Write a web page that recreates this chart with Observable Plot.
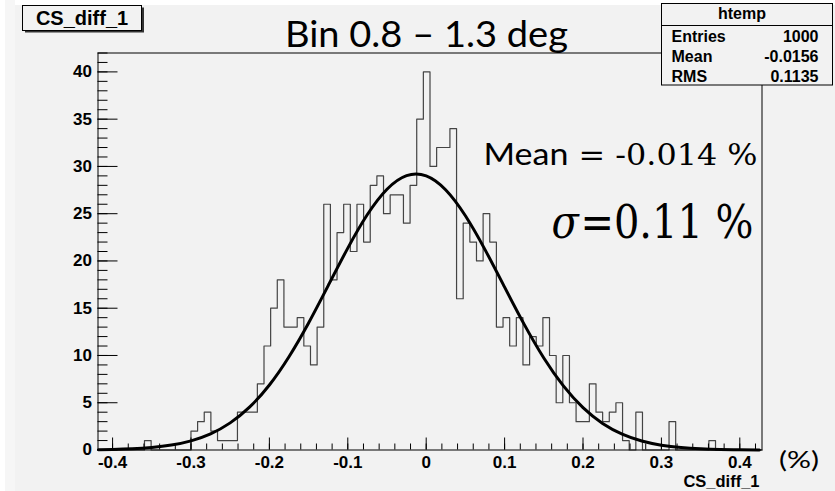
<!DOCTYPE html>
<html><head><meta charset="utf-8">
<script src="https://cdn.jsdelivr.net/npm/d3@7"></script>
<script src="https://cdn.jsdelivr.net/npm/@observablehq/plot@0.6"></script>
<style>
html,body{margin:0;padding:0;background:#fff;}
#chart{width:835px;height:491px;}
</style></head><body><div id="chart"></div>
<script>
// ---- data ----
const histName = "htemp";
const histTitle = "CS_diff_1";
const statLabels = ["Entries", "Mean", "RMS"];
const statValues = ["1000", "-0.0156", "0.1135"];
const overlayTitle = "Bin 0.8 \u2013 1.3 deg";
const xMin = -0.4186, xMax = 0.4283;           // histogram range (100 bins)
const counts = [
  0,0,0,0,0,0,0,1,0,0,
  0,0,0,0,2,3,4,2,1,1,
  1,4,4,4,7,11,15,18,13,13,
  14,11,9,13,26,18,23,26,21,26,
  22,28,29,25,27,27,24,28,35,40,
  30,32,32,34,16,24,22,20,25,22,
  13,14,11,14,9,12,11,14,10,5,
  10,5,3,3,7,4,3,4,5,1,
  0,4,0,0,0,0,3,0,0,0,
  0,0,1,0,0,0,0,0,0,0
];
// fitted curve
const fitX = [-0.418,-0.4,-0.375,-0.35,-0.325,-0.3,-0.275,-0.25,-0.225,-0.2,-0.175,-0.15,-0.125,-0.1,-0.075,-0.05,-0.025,0,
  0.025,0.05,0.075,0.1,0.125,0.15,0.175,0.2,0.225,0.25,0.275,0.3,0.325,0.35,0.375,0.4,0.425];
const fitY = [0.03,0.06,0.13,0.27,0.52,0.97,1.71,2.87,4.56,6.88,9.87,13.44,17.39,21.36,24.91,27.59,29.03,29.0,
  27.51,24.78,21.2,17.23,13.29,9.74,6.78,4.48,2.81,1.68,0.95,0.51,0.26,0.13,0.06,0.03,0.01];
const xTickLabels = [-0.4,-0.3,-0.2,-0.1,0,0.1,0.2,0.3,0.4];
const yTickLabels = [0,5,10,15,20,25,30,35,40];
const meanText = ["Mean", " = -0.014 %"];
const sigmaText = ["\u03C3", "=0.11 %"];
const unitText = "(%)";

// ---- layout ----
const W = 835, H = 491;
const mL = 97.5, mR = 73.5, mT = 52.5, mB = 41.5;
const frameW = W - mL - mR, frameH = H - mT - mB;

const bw = (xMax - xMin) / counts.length;
const hist = counts.map((c, i) => ({x: xMin + i * bw, y: c}));
hist.push({x: xMax, y: counts[counts.length - 1]});
const fit = fitX.map((x, i) => ({x, y: fitY[i]}));
const xMinor = d3.range(-20, 22).map(k => +(k * 0.02).toFixed(2));
const yMinor = d3.range(0, 43);

const plot = Plot.plot({
  width: W, height: H,
  marginLeft: mL, marginRight: mR, marginTop: mT, marginBottom: mB,
  x: {domain: [xMin, xMax], label: null},
  y: {domain: [0, 42], label: null},
  style: {background: "transparent", color: "#000", fontFamily: "'Liberation Sans', Arial, sans-serif", fontSize: "17px", fontWeight: "bold"},
  marks: [
    Plot.line(hist, {x: "x", y: "y", curve: "step-after", stroke: "#444", strokeWidth: 1.2}),
    Plot.line(fit, {x: "x", y: "y", curve: "natural", stroke: "#000", strokeWidth: 3}),
    Plot.frame({stroke: "#000", strokeWidth: 1}),
    Plot.tickX(xMinor, {x: d => d, insetTop: frameH - 6, stroke: "#000"}),
    Plot.tickX(xTickLabels, {x: d => d, insetTop: frameH - 12, stroke: "#000"}),
    Plot.tickY(yMinor, {y: d => d, insetRight: frameW - 10, stroke: "#000"}),
    Plot.tickY(yTickLabels, {y: d => d, insetRight: frameW - 20, stroke: "#000"}),
    Plot.axisX(xTickLabels, {tickSize: 0, tickPadding: 6, tickFormat: d => String(d), label: null}),
    Plot.axisY(yTickLabels, {tickSize: 0, tickPadding: 6, tickFormat: d => String(d), label: null})
  ]
});
document.getElementById("chart").appendChild(plot);

const svg = d3.select(plot);
// canvas background
svg.insert("rect", ":first-child").attr("x", 15).attr("y", 5).attr("width", W - 15).attr("height", H - 5).attr("fill", "#f2f2f2");
svg.insert("rect", ":first-child").attr("x", 5).attr("y", 0).attr("width", 10).attr("height", H).attr("fill", "#f6f6f6");

const sans = "'Liberation Sans', Arial, sans-serif";
function txt(x, y, anchor, style) {
  return svg.append("text").attr("x", x).attr("y", y).attr("text-anchor", anchor).attr("style", style);
}
// histogram title box
svg.append("rect").attr("x", 25).attr("y", 7.5).attr("width", 119).attr("height", 25).attr("fill", "#333");
svg.append("rect").attr("x", 22.5).attr("y", 5.5).attr("width", 119).attr("height", 25)
  .attr("fill", "#f2f2f2").attr("stroke", "#000");
txt(82, 25, "middle", `font: bold 20px ${sans}; fill:#000`).text(histTitle);

// stats box
svg.append("rect").attr("x", 661.5).attr("y", 3.5).attr("width", 171).attr("height", 81.5)
  .attr("fill", "#f2f2f2").attr("stroke", "#000");
svg.append("line").attr("x1", 661.5).attr("x2", 832.5).attr("y1", 25.5).attr("y2", 25.5).attr("stroke", "#000");
txt(742, 19, "middle", `font: bold 16px ${sans}; fill:#000`).text(histName);
const rowY = [41.5, 62, 81.5];
statLabels.forEach((s, i) => {
  txt(671.5, rowY[i], "start", `font: bold 16px ${sans}; fill:#000`).text(s);
  txt(818.5, rowY[i], "end", `font: bold 16px ${sans}; fill:#000`).text(statValues[i]);
});

// overlay title
txt(285, 46.5, "start", "font: 37px Lato, 'Open Sans', sans-serif; fill:#000")
  .attr("textLength", 283).attr("lengthAdjust", "spacingAndGlyphs").text(overlayTitle);

// mean text
const mt = txt(483.5, 165, "start", "fill:#000")
  .attr("textLength", 274).attr("lengthAdjust", "spacingAndGlyphs");
mt.append("tspan").attr("style", "font: 31px Lato, sans-serif").text(meanText[0]);
mt.append("tspan").attr("style", "font: 29px 'DejaVu Serif', serif").text(meanText[1]);

// sigma text
const st = txt(551.5, 238.3, "start", "fill:#000")
  .attr("textLength", 202).attr("lengthAdjust", "spacingAndGlyphs");
st.append("tspan").attr("style", "font: italic 46px 'DejaVu Serif', serif").text(sigmaText[0]);
st.append("tspan").attr("dx", 2).attr("style", "font: 46px 'DejaVu Serif', serif").text(sigmaText[1]);

// unit and axis title
txt(779, 468, "start", "font: 23px Lato, sans-serif; fill:#000")
  .attr("textLength", 40).attr("lengthAdjust", "spacingAndGlyphs").text(unitText);
txt(759.5, 487, "end", `font: bold 16.5px ${sans}; fill:#000`).text(histTitle);
</script></body></html>
